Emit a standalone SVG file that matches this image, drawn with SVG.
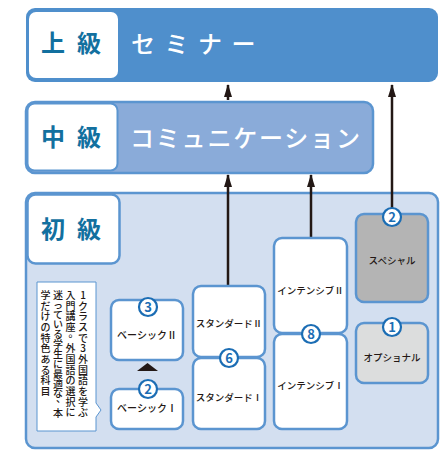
<svg xmlns="http://www.w3.org/2000/svg" width="445" height="450" viewBox="0 0 445 450">
<style>
text{font-family:"Noto Sans CJK JP","Noto Sans",sans-serif}
.lvl{font-size:24px;font-weight:bold;fill:#12709f;letter-spacing:12px}
.ttl{font-size:24px;fill:#fff;font-weight:500}
.nb{fill:#fff;stroke:#5b95d0;stroke-width:2.5}
.lbl{font-size:9.5px;fill:#231815;text-anchor:middle;font-weight:500}
.c{fill:#fff;stroke:#1b6db4;stroke-width:2.2}
.n{font-size:13px;font-weight:bold;fill:#1b6db4;text-anchor:middle}
.ln{stroke:#231815;stroke-width:2.5;fill:none}
.note{font-size:10px;fill:#231815;text-anchor:middle;font-weight:500}
</style>
<defs>
<marker id="ah" markerWidth="13" markerHeight="8" refX="12" refY="4" orient="auto" markerUnits="userSpaceOnUse" viewBox="0 0 13 8">
<path d="M0,0 L13,4 L0,8 Z" fill="#231815"/>
</marker>
</defs>

<g id="advanced">
<rect x="26" y="8" width="412" height="74" rx="9" fill="#4f8fcc"/>
<rect x="29" y="12" width="89" height="66" rx="7" fill="#fff"/>
<text class="lvl" x="41" y="52">上級</text>
<text class="ttl" x="131" y="53" style="letter-spacing:9.5px">セミナー</text>
</g>

<g id="intermediate">
<rect x="26" y="102" width="347" height="71" rx="9" fill="#8aabd9" stroke="#5b95d0" stroke-width="2.5"/>
<rect x="27.5" y="103.5" width="90" height="67" rx="7" fill="#fff" stroke="#5b95d0" stroke-width="2"/>
<text class="lvl" x="41" y="146">中級</text>
<text class="ttl" x="130" y="147" style="letter-spacing:1.8px">コミュニケーション</text>
</g>

<g id="beginner">
<rect x="26" y="193" width="412" height="255" rx="9" fill="#d3dff0" stroke="#5b95d0" stroke-width="2.5"/>
<rect x="27.5" y="194.5" width="92" height="69" rx="8" fill="#fff" stroke="#5b95d0" stroke-width="2.5"/>
<text class="lvl" x="41" y="238">初級</text>
</g>

<g id="note">
<path d="M37,282 H96 V403 L101,410 L96,417 V431 H37 Z" fill="#fff" stroke="#5b95d0" stroke-width="1"/>
<text class="note" x="83 83 83 83 83 83 83 83 83 83 83 83" y="298.8 309.5 320.1 330.8 341.5 352.2 362.8 373.5 384.2 394.8 405.5 416.2">1クラスで3外国語を学ぶ</text>
<text class="note" x="70.5 70.5 70.5 70.5 73.5 70.5 70.5 70.5 70.5 70.5 70.5 70.5" y="298.8 309.5 320.1 330.8 336.5 352.2 362.8 373.5 384.2 394.8 405.5 416.2">入門講座。外国語の選択に</text>
<text class="note" x="58 58 58 58 58 58 58 58 58 58 58 61 58" y="298.8 308.6 318.5 328.4 338.2 348.1 357.9 367.8 377.6 387.5 397.3 402.2 417.0">迷っている学生に最適な、本</text>
<text class="note" x="45.5 45.5 45.5 45.5 45.5 45.5 45.5 45.5 45.5 45.5" y="298.8 309.5 320.2 330.9 341.6 352.3 363.0 373.7 384.4 395.1">学だけの特色ある科目</text>
</g>

<g id="connectors">
<line class="ln" x1="228" y1="286" x2="228" y2="175" marker-end="url(#ah)"/>
<line class="ln" x1="311" y1="238" x2="311" y2="175" marker-end="url(#ah)"/>
<line class="ln" x1="392" y1="208" x2="392" y2="85" marker-end="url(#ah)"/>
<line class="ln" x1="228" y1="100" x2="228" y2="85" marker-end="url(#ah)"/>
<path d="M137,371 L147.5,363 L158,371 Z" fill="#231815"/>
</g>

<g id="basic2">
<rect class="nb" x="111" y="300" width="72" height="60" rx="8"/>
<text class="lbl" x="147" y="339" style="font-size:10px">ベーシックⅡ</text>
<circle class="c" cx="148" cy="307" r="9"/>
<text class="n" x="148" y="311.8">3</text>
</g>
<g id="basic1">
<rect class="nb" x="111" y="389" width="72" height="40" rx="8"/>
<text class="lbl" x="147" y="412" style="font-size:10px">ベーシックⅠ</text>
<circle class="c" cx="148" cy="389" r="9"/>
<text class="n" x="148" y="393.8">2</text>
</g>

<g id="standard2">
<rect class="nb" x="193" y="286" width="72" height="71" rx="8"/>
<text class="lbl" x="229" y="327">スタンダードⅡ</text>
</g>
<g id="standard1">
<rect class="nb" x="193" y="358" width="72" height="71" rx="8"/>
<text class="lbl" x="229" y="401">スタンダードⅠ</text>
<circle class="c" cx="229" cy="358" r="9"/>
<text class="n" x="229" y="362.8">6</text>
</g>

<g id="intensive2">
<rect class="nb" x="274" y="238" width="73" height="95" rx="8"/>
<text class="lbl" x="310.5" y="294">インテンシブⅡ</text>
</g>
<g id="intensive1">
<rect class="nb" x="274" y="334" width="73" height="95" rx="8"/>
<text class="lbl" x="310.5" y="389">インテンシブⅠ</text>
<circle class="c" cx="311" cy="334" r="9"/>
<text class="n" x="311" y="338.8">8</text>
</g>

<g id="special">
<rect x="356" y="214" width="72" height="88" rx="8" fill="#b4b4b4" stroke="#5b95d0" stroke-width="2.5"/>
<text class="lbl" x="392" y="264">スペシャル</text>
<circle class="c" cx="392" cy="217" r="9"/>
<text class="n" x="392" y="221.8">2</text>
</g>
<g id="optional">
<rect x="356" y="323" width="72" height="60" rx="8" fill="#dcdddd" stroke="#5b95d0" stroke-width="2.5"/>
<text class="lbl" x="392" y="361">オプショナル</text>
<circle class="c" cx="392" cy="327" r="9"/>
<text class="n" x="392" y="331.8">1</text>
</g>
</svg>
